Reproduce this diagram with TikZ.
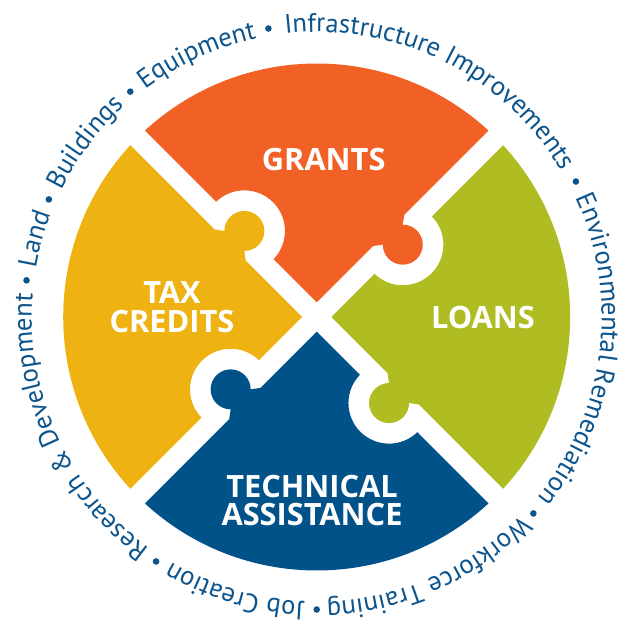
\documentclass[tikz,border=0pt]{standalone}
\usepackage{fontspec}
\setmainfont{PT Sans}
\newfontfamily\labelfont{Open Sans}
\usetikzlibrary{decorations.text}
\definecolor{grantsorange}{RGB}{241,96,37}
\definecolor{taxyellow}{RGB}{238,178,18}
\definecolor{loansgreen}{RGB}{175,189,35}
\definecolor{techblue}{RGB}{2,82,138}
\definecolor{ringblue}{RGB}{12,84,140}
\newcommand{\ringfont}{\fontsize{15.2pt}{18pt}\selectfont}
\def\puzzlepiece[#1](#2){\fill[#1, rotate=#2] (0,14.57) -- (56.36,70.92) -- (66.06,72.34) arc[start angle=180, end angle=450, radius=20] -- (87.47,102.04) -- (47.33:253.5) arc[start angle=47.33, end angle=132.67, radius=253.5] -- (-100.62,115.18) arc[start angle=134.15, end angle=-44.15, radius=40.6] -- cycle;}
\tikzset{
	piecetext/.style={text=white, font=\labelfont\fontsize{17.5pt}{16.2pt}\selectfont\bfseries, align=center, inner sep=0pt},
	ringtext/.style={decorate, decoration={text along path, text align=center, text color=ringblue, text={|\ringfont|#1}}}
}

\begin{document}
\begin{tikzpicture}[x=0.02cm, y=0.02cm]
		%%%%% START %%%%%
		\useasboundingbox (-316.7,-308) rectangle (317.3,317);
		
		\puzzlepiece[grantsorange](0)
		\puzzlepiece[taxyellow](90)
		\puzzlepiece[techblue](180)
		\puzzlepiece[loansgreen](270)
		
		\node[piecetext] (grants) at (7,157.5) {GRANTS};
		\node[piecetext] (taxcredits) at (-144.7,9.8) {TAX\\CREDITS};
		\node[piecetext] (loans) at (166.3,-1) {LOANS};
		\node[piecetext] (technical) at (-4.7,-183.5) {TECHNICAL\\ASSISTANCE};
		
		\path[ringtext={Infrastructure Improvements}] (99.5:285) arc[start angle=99.5, end angle=27.6, radius=285];
		\path[ringtext={Environmental Remediation}] (27.6:285) arc[start angle=27.6, end angle=-42.2, radius=285];
		\path[ringtext={Workforce Training}] (-42.2:285) arc[start angle=-42.2, end angle=-90, radius=285];
		\path[ringtext={Job Creation}] (-90:285) arc[start angle=-90, end angle=-123.3, radius=285];
		\path[ringtext={Research {\&} Development}] (-123.3:285) arc[start angle=-123.3, end angle=-187.2, radius=285];
		\path[ringtext={Land}] (172.8:285) arc[start angle=172.8, end angle=156.3, radius=285];
		\path[ringtext={Buildings}] (156.3:285) arc[start angle=156.3, end angle=129.6, radius=285];
		\path[ringtext={Equipment}] (129.6:285) arc[start angle=129.6, end angle=99.5, radius=285];
		
		\fill[ringblue] (99.5:292.5) circle (3.3);
		\fill[ringblue] (27.6:292.5) circle (3.3);
		\fill[ringblue] (-42.2:292.5) circle (3.3);
		\fill[ringblue] (-90:292.5) circle (3.3);
		\fill[ringblue] (-123.3:292.5) circle (3.3);
		\fill[ringblue] (172.8:292.5) circle (3.3);
		\fill[ringblue] (156.3:292.5) circle (3.3);
		\fill[ringblue] (129.6:292.5) circle (3.3);
		
		%%%%% END %%%%%
\end{tikzpicture}
\end{document}
